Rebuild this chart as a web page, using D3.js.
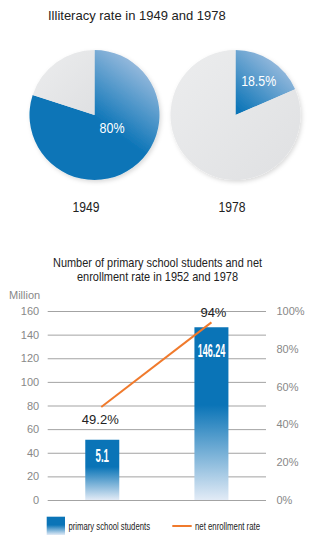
<!DOCTYPE html>
<html><head><meta charset="utf-8">
<script src="https://cdn.jsdelivr.net/npm/d3@7"></script>
<style>
html,body{margin:0;padding:0;background:#fff;}
svg{display:block;font-family:"Liberation Sans",Arial,sans-serif;}
</style></head>
<body><svg id="c" width="323" height="544"></svg>
<script>
// ---- data ----
const pieYears = ["1949", "1978"];
const illiteracy = [80, 18.5];
const pieLabels = ["80%", "18.5%"];

const barYears = ["1952", "1978"];
const students = [51, 146.24];
const studentLabels = ["5.1", "146.24"];
const enrollment = [49.2, 94];
const enrollmentLabels = ["49.2%", "94%"];
const leftTicks = [0, 20, 40, 60, 80, 100, 120, 140, 160];
const rightTicks = [0, 20, 40, 60, 80, 100];

const svg = d3.select("#c");
const defs = svg.append("defs");

const BLUE = "#0a74b7";

// condensed text helper: fit text to measured width
function fit(sel, w) { return sel.attr("textLength", w).attr("lengthAdjust", "spacingAndGlyphs"); }

// shadow filter
const f = defs.append("filter").attr("id","sh").attr("x","-20%").attr("y","-20%").attr("width","140%").attr("height","140%");
f.append("feDropShadow").attr("dx",1.5).attr("dy",2).attr("stdDeviation",2).attr("flood-color","#000").attr("flood-opacity",0.15);

// grey gradient
const gg = defs.append("linearGradient").attr("id","gg").attr("x1","0").attr("y1","0").attr("x2","1").attr("y2","1");
gg.append("stop").attr("offset","0").attr("stop-color","#ecedee");
gg.append("stop").attr("offset","1").attr("stop-color","#dfe0e2");

// ---- top title ----
svg.append("text").attr("x",48).attr("y",20).attr("font-size",13).attr("fill","#222")
  .text("Illiteracy rate in 1949 and 1978");

// ---- pies ----
const pieX = d3.scalePoint().domain(pieYears).range([94.5, 235.5]);
const pieCY = 115, R = 65;
const arc = d3.arc().innerRadius(0).outerRadius(R);
const pie = d3.pie().sort(null).value(d => d);
const yearLabelX = [86, 232];
const pieLabelW = [25, 35];

pieYears.forEach((yr, i) => {
  const cx = pieX(yr);
  const g = svg.append("g").attr("transform", `translate(${cx},${pieCY})`);
  const gid = "pb" + i;
  const lg = defs.append("linearGradient").attr("id", gid).attr("gradientUnits","userSpaceOnUse")
    .attr("x1", R*0.75).attr("y1", -R*0.85).attr("x2", R*0.05).attr("y2", i===0 ? R*0.1 : -R*0.05);
  lg.append("stop").attr("offset","0").attr("stop-color","#a3c0e0");
  lg.append("stop").attr("offset","1").attr("stop-color",BLUE);
  const arcs = pie([illiteracy[i], 100 - illiteracy[i]]);
  const gs = g.append("g").attr("filter","url(#sh)");
  gs.selectAll("path").data(arcs).join("path")
    .attr("d", arc)
    .attr("fill", (d, j) => j === 0 ? `url(#${gid})` : "url(#gg)");
  const a = arcs[0];
  const mid = (a.startAngle + a.endAngle) / 2;
  const lr = R * 0.62;
  const lx = i === 0 ? 17.5 : Math.sin(mid) * lr + 1;
  const ly = i === 0 ? 13 : -Math.cos(mid) * lr;
  fit(g.append("text").attr("x", lx - pieLabelW[i]/2).attr("y", ly + 5)
    .attr("font-size",14).attr("fill","#fff").text(pieLabels[i]), pieLabelW[i]);
  fit(svg.append("text").attr("x", yearLabelX[i] - 13.5).attr("y", 212)
    .attr("font-size",14).attr("fill","#222").text(yr), 27);
});

// ---- bottom chart ----
fit(svg.append("text").attr("x",53).attr("y",267).attr("font-size",13).attr("fill","#222")
  .text("Number of primary school students and net"), 209);
fit(svg.append("text").attr("x",77).attr("y",281).attr("font-size",13).attr("fill","#222")
  .text("enrollment rate in 1952 and 1978"), 161);
svg.append("text").attr("x",9).attr("y",299).attr("font-size",11).attr("fill","#888").text("Million");

const x0 = 47.7, x1 = 266;
const y = d3.scaleLinear().domain([0,160]).range([500, 311]);
const y2 = d3.scaleLinear().domain([0,100]).range([500, 311]);
const xb = d3.scaleBand().domain(barYears).range([x0, x1]);
const bw = 34;
const cxb = d => xb(d) + xb.bandwidth()/2;

// gridlines + left axis labels
const leftAxis = d3.axisLeft(y).tickValues(leftTicks).tickSize(-(x1 - x0)).tickPadding(8.5);
const la = svg.append("g").attr("transform",`translate(${x0},0)`).call(leftAxis);
la.select(".domain").remove();
la.selectAll(".tick line").attr("stroke","#a3a3a3").attr("stroke-width",1);
la.selectAll(".tick text").attr("font-size",11).attr("fill","#888").attr("font-family","Liberation Sans, Arial, sans-serif");

// right axis labels
const rightAxis = d3.axisRight(y2).tickValues(rightTicks).tickSize(0).tickPadding(10.5).tickFormat(d => d + "%");
const ra = svg.append("g").attr("transform",`translate(${x1},0)`).call(rightAxis);
ra.select(".domain").remove();
ra.selectAll(".tick text").attr("font-size",11).attr("fill","#888").attr("font-family","Liberation Sans, Arial, sans-serif");

// bar gradient
const bg = defs.append("linearGradient").attr("id","bg").attr("x1","0").attr("y1","0").attr("x2","0").attr("y2","1");
bg.append("stop").attr("offset","0").attr("stop-color",BLUE);
bg.append("stop").attr("offset","0.45").attr("stop-color",BLUE);
bg.append("stop").attr("offset","1").attr("stop-color","#e2ebf6");

svg.append("g").selectAll("rect").data(students).join("rect")
  .attr("x", (d, i) => cxb(barYears[i]) - bw/2)
  .attr("y", d => y(d))
  .attr("width", bw)
  .attr("height", d => y(0) - y(d))
  .attr("fill","url(#bg)");

const barLabelW = [13.4, 27.5];
svg.append("g").selectAll("text").data(students).join("text")
  .attr("x", (d, i) => cxb(barYears[i]) - barLabelW[i]/2)
  .attr("y", (d, i) => y(d) + (i === 0 ? 22 : 30))
  .attr("font-weight","bold").attr("font-size",17.5).attr("fill","#fff")
  .attr("textLength", (d, i) => barLabelW[i]).attr("lengthAdjust","spacingAndGlyphs")
  .text((d, i) => studentLabels[i]);

// line
const line = d3.line().x((d, i) => cxb(barYears[i]) + (i === 0 ? -1 : 0)).y(d => y2(d));
svg.append("path").datum(enrollment).attr("d", line).attr("fill","none").attr("stroke","#f07a2c").attr("stroke-width",2);

svg.append("g").selectAll("text").data(enrollment).join("text")
  .attr("x", (d, i) => cxb(barYears[i]) + (i===0 ? -2 : 2))
  .attr("y", (d, i) => i === 0 ? y2(d) + 17 : y2(d) - 5.5)
  .attr("text-anchor","middle").attr("font-size",13).attr("fill","#222")
  .text((d, i) => enrollmentLabels[i]);

// legend
const lgY = 526;
svg.append("rect").attr("x",46.7).attr("y",516.7).attr("width",18.3).attr("height",18.3).attr("fill","url(#bg)");
fit(svg.append("text").attr("x",68.5).attr("y",lgY+4).attr("font-size",11.5).attr("fill","#222")
  .text("primary school students"), 81.5);
svg.append("line").attr("x1",172.3).attr("x2",191.7).attr("y1",lgY).attr("y2",lgY).attr("stroke","#f07a2c").attr("stroke-width",2);
fit(svg.append("text").attr("x",195).attr("y",lgY+4).attr("font-size",11.5).attr("fill","#222")
  .text("net enrollment rate"), 65);
</script></body></html>
